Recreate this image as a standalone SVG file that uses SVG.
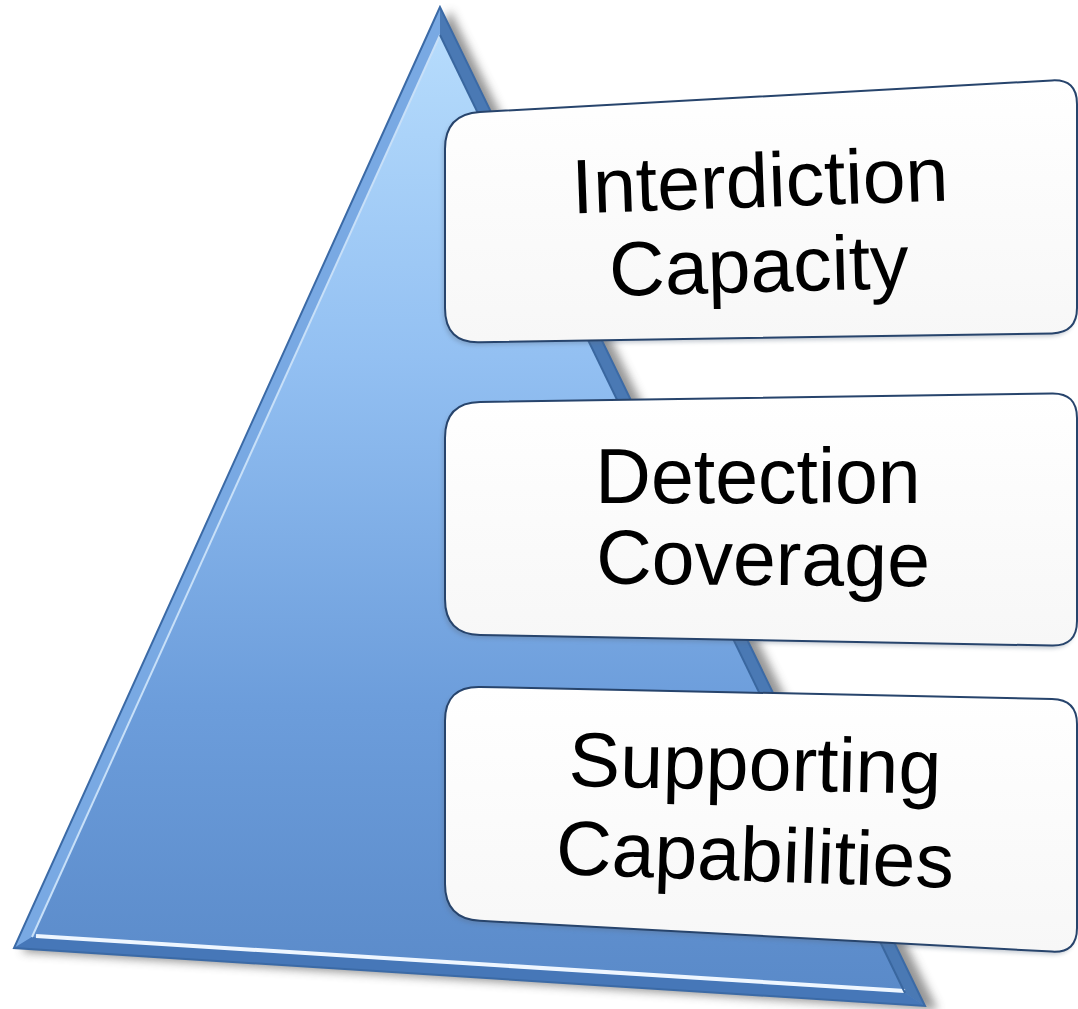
<svg xmlns="http://www.w3.org/2000/svg" width="1078" height="1009" viewBox="0 0 1078 1009">
<defs>
<linearGradient id="tri" x1="0" y1="0" x2="0" y2="1">
<stop offset="0" stop-color="#b9defd"/>
<stop offset="0.35" stop-color="#93c0f2"/>
<stop offset="0.7" stop-color="#6c9ddb"/>
<stop offset="1" stop-color="#5989c8"/>
</linearGradient>
<linearGradient id="box" x1="0" y1="0" x2="0" y2="1">
<stop offset="0" stop-color="#ffffff"/>
<stop offset="1" stop-color="#f7f7f7"/>
</linearGradient>
<filter id="sh" x="-10%" y="-10%" width="120%" height="120%">
<feGaussianBlur stdDeviation="5"/>
</filter>
<filter id="bsh" x="-10%" y="-10%" width="120%" height="130%">
<feGaussianBlur stdDeviation="2"/>
</filter>
<style>
.lbl{font-family:"Liberation Sans",Arial,sans-serif;font-size:77px;fill:#000;text-anchor:middle}
.card{fill:url(#box);stroke:#27446c;stroke-width:2}
.cshadow{fill:#5a6a80;opacity:0.35;filter:url(#bsh)}
</style>
</defs>
<g id="pyramid">
<polygon points="450,10 22,952 938,1010" fill="#505050" opacity="0.6" filter="url(#sh)"/>
<polygon points="440,7 14,948 925,1006" fill="url(#tri)"/>
<polygon points="440,7 14,948 32,937 440,35" fill="#79a9e3"/>
<polygon points="440,7 440,35 905,993 925,1006" fill="#4a79b4"/>
<polygon points="14,948 925,1006 905,993 32,937" fill="#4677b8"/>
<polyline points="440,35 32,937" fill="none" stroke="#c8e0f8" stroke-width="2"/>
<polyline points="36,936 905,991" fill="none" stroke="#eef6ff" stroke-width="4"/>
<polyline points="440,35 905,993" fill="none" stroke="#3a679f" stroke-width="2"/>
<polygon points="440,7 14,948 925,1006" fill="none" stroke="#3b6aa6" stroke-width="2"/>
</g>
<g id="connectors"></g>
<g id="node1">
<path class="cshadow" transform="translate(-2,3)" d="M480,112 L1052,80.4 Q1077,79 1077,104 L1077,308 Q1077,332.6 1052,333.4 L480,342.2 Q445,343.4 445,308 L445,149 Q445,114 480,112 Z"/>
<path class="card" d="M480,112 L1052,80.4 Q1077,79 1077,104 L1077,308 Q1077,332.6 1052,333.4 L480,342.2 Q445,343.4 445,308 L445,149 Q445,114 480,112 Z"/>
<text class="lbl" x="760" y="207" transform="rotate(-2 760 185)">Interdiction</text>
<text class="lbl" x="759" y="292" transform="rotate(-1.5 759 270)">Capacity</text>
</g>
<g id="node2">
<path class="cshadow" transform="translate(-2,3)" d="M480,402 L1052,393.4 Q1077,393 1077,418 L1077,621 Q1077,646 1052,645.5 L480,635 Q445,634.3 445,599 L445,438 Q445,402.5 480,402 Z"/>
<path class="card" d="M480,402 L1052,393.4 Q1077,393 1077,418 L1077,621 Q1077,646 1052,645.5 L480,635 Q445,634.3 445,599 L445,438 Q445,402.5 480,402 Z"/>
<text class="lbl" x="758" y="503">Detection</text>
<text class="lbl" x="763" y="585" transform="rotate(0.5 763 563)">Coverage</text>
</g>
<g id="node3">
<path class="cshadow" transform="translate(-2,3)" d="M480,687 L1052,698.9 Q1077,699.4 1077,724 L1077,928 Q1077,953 1052,951.6 L480,920.8 Q445,919 445,884 L445,721 Q445,686.3 480,687 Z"/>
<path class="card" d="M480,687 L1052,698.9 Q1077,699.4 1077,724 L1077,928 Q1077,953 1052,951.6 L480,920.8 Q445,919 445,884 L445,721 Q445,686.3 480,687 Z"/>
<text class="lbl" x="755" y="790" transform="rotate(1.2 755 768)">Supporting</text>
<text class="lbl" x="755" y="881" transform="rotate(2 755 859)">Capabilities</text>
</g>
</svg>
